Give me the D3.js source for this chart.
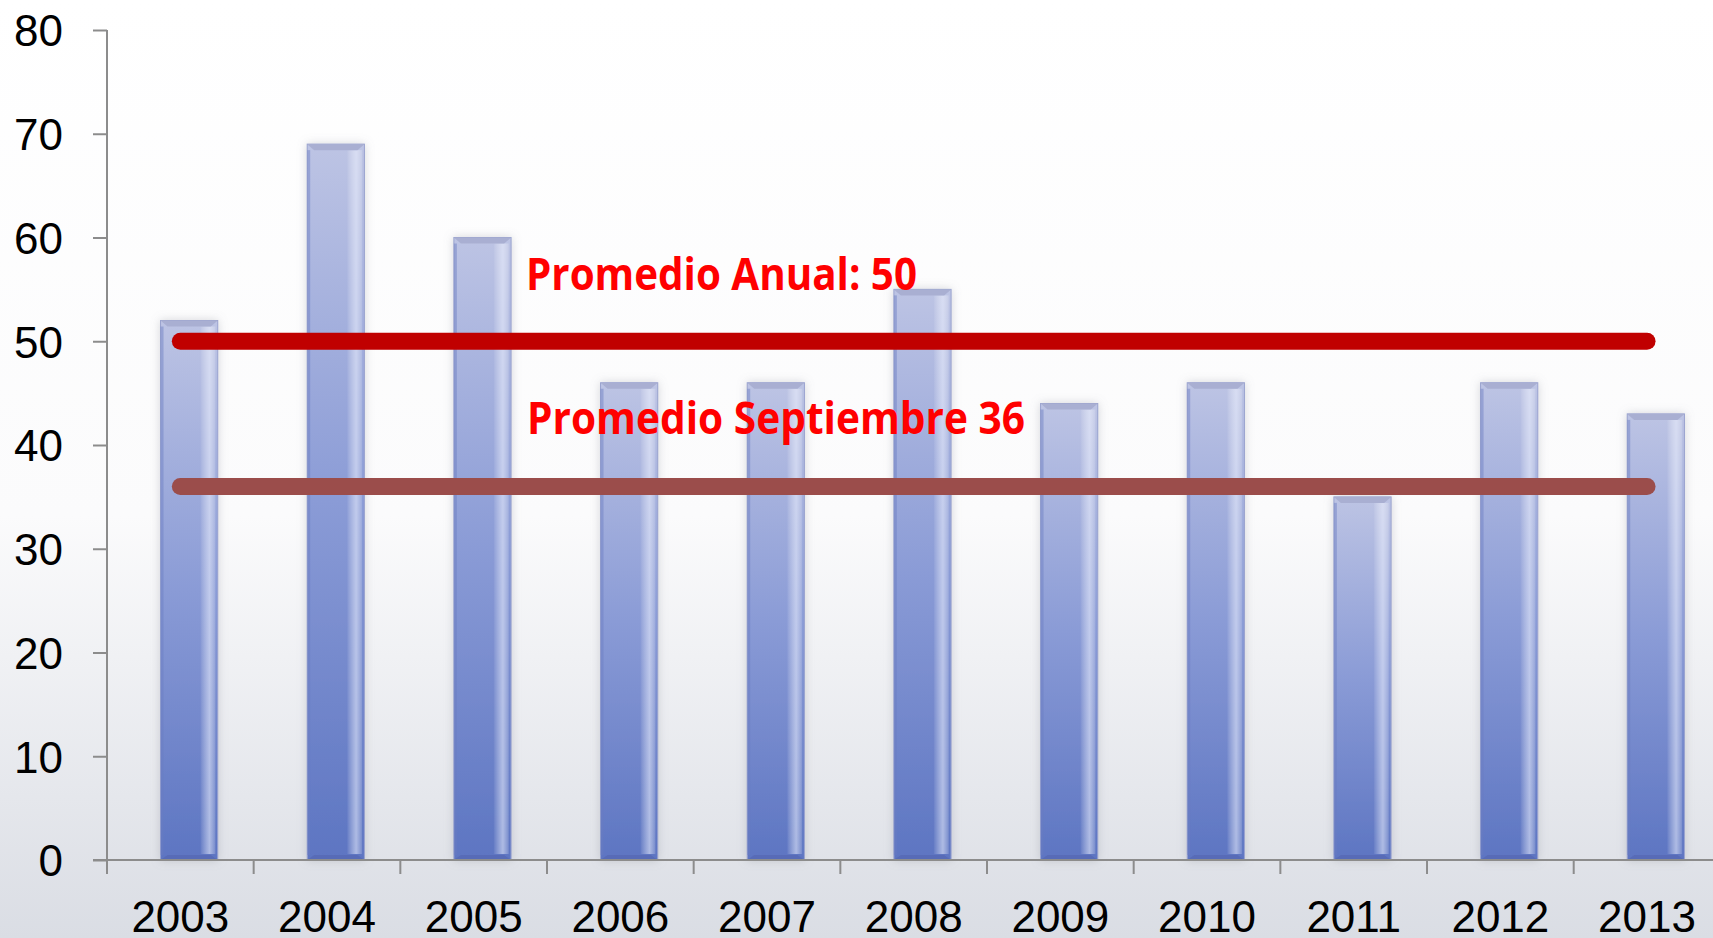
<!DOCTYPE html>
<html>
<head>
<meta charset="utf-8">
<script src="https://cdn.jsdelivr.net/npm/d3@7"></script>
<style>
  html, body { margin: 0; padding: 0; overflow: hidden; }
  svg { display: block; }
</style>
</head>
<body>
<script>
// chart data
const years = ["2003", "2004", "2005", "2006", "2007", "2008", "2009", "2010", "2011", "2012", "2013"];
const values = [52, 69, 60, 46, 46, 55, 44, 46, 35, 46, 43];
const yTicks = [0, 10, 20, 30, 40, 50, 60, 70, 80];
const avgAnual = 50;
const avgSeptiembre = 36;
const avgLabels = ["Promedio Anual: 50", "Promedio Septiembre 36"];

const width = 1713, height = 938;
const plotLeft = 107, plotTop = 30, plotBottom = 860;
const band = 146.67;

const svg = d3.select("body").append("svg")
    .attr("width", width)
    .attr("height", height);

const defs = svg.append("defs");

// background
const bg = defs.append("linearGradient").attr("id", "bg")
    .attr("x1", 0).attr("y1", 0).attr("x2", 0).attr("y2", 1);
bg.append("stop").attr("offset", "0").attr("stop-color", "#ffffff");
bg.append("stop").attr("offset", "0.55").attr("stop-color", "#fbfbfc");
bg.append("stop").attr("offset", "1").attr("stop-color", "#dadde4");

// bar body
const body = defs.append("linearGradient").attr("id", "barBody")
    .attr("x1", 0).attr("y1", 0).attr("x2", 0).attr("y2", 1);
body.append("stop").attr("offset", "0").attr("stop-color", "#bdc4e4");
body.append("stop").attr("offset", "0.5").attr("stop-color", "#8a9bd6");
body.append("stop").attr("offset", "1").attr("stop-color", "#5d75c2");

// right highlight of the bar
const hi = defs.append("linearGradient").attr("id", "barHi")
    .attr("x1", 0).attr("y1", 0).attr("x2", 1).attr("y2", 0);
hi.append("stop").attr("offset", "0").attr("stop-color", "#ffffff").attr("stop-opacity", 0.05);
hi.append("stop").attr("offset", "0.6").attr("stop-color", "#eef2ff").attr("stop-opacity", 0.55);
hi.append("stop").attr("offset", "1").attr("stop-color", "#ffffff").attr("stop-opacity", 0.15);

const shadow = defs.append("filter").attr("id", "shadow")
    .attr("x", "-30%").attr("y", "-10%").attr("width", "160%").attr("height", "120%");
shadow.append("feDropShadow")
    .attr("dx", 0).attr("dy", 0).attr("stdDeviation", 5)
    .attr("flood-color", "#8c8f99").attr("flood-opacity", 0.35);

svg.append("rect")
    .attr("width", width).attr("height", height)
    .attr("fill", "url(#bg)");

// scales
const x = d3.scaleBand()
    .domain(years)
    .range([plotLeft, plotLeft + band * years.length])
    .padding(0);

const y = d3.scaleLinear()
    .domain([0, 80])
    .range([plotBottom, plotTop]);

const barW = x.bandwidth() * 0.39;
const barOff = x.bandwidth() * 0.365;

// bars
const bars = svg.selectAll("g.bar")
    .data(years.map((d, i) => ({ year: d, value: values[i] })))
    .enter()
    .append("g")
    .attr("class", "bar")
    .attr("transform", d => `translate(${x(d.year) + barOff}, 0)`);

bars.append("rect")
    .attr("y", d => y(d.value))
    .attr("width", barW)
    .attr("height", d => y(0) - y(d.value))
    .attr("fill", "url(#barBody)")
    .attr("stroke", "#9aa3cf")
    .attr("stroke-width", 1)
    .attr("filter", "url(#shadow)");

bars.append("rect")
    .attr("x", barW * 0.7)
    .attr("y", d => y(d.value) + 6)
    .attr("width", barW * 0.26)
    .attr("height", d => y(0) - y(d.value) - 12)
    .attr("fill", "url(#barHi)");

// top bevel
bars.append("path")
    .attr("d", d => {
        const t = y(d.value);
        return `M0,${t} L${barW},${t} L${barW - 7},${t + 6} L7,${t + 6} Z`;
    })
    .attr("fill", "#a9afd2");

// bottom bevel
bars.append("path")
    .attr("d", d => {
        const b = y(0);
        return `M0,${b} L${barW},${b} L${barW - 7},${b - 5} L7,${b - 5} Z`;
    })
    .attr("fill", "#5669b4")
    .attr("opacity", 0.8);

// left edge
bars.append("rect")
    .attr("y", d => y(d.value) + 6)
    .attr("width", 3)
    .attr("height", d => y(0) - y(d.value) - 11)
    .attr("fill", "#6a7cc0")
    .attr("opacity", 0.45);

// y axis
const yAxis = svg.append("g")
    .attr("transform", `translate(${plotLeft},0)`)
    .call(d3.axisLeft(y).tickValues(yTicks).tickSize(14).tickPadding(30));
yAxis.select(".domain").attr("stroke", "#8c8c8c").attr("stroke-width", 2)
    .attr("d", `M0,${plotTop}V${plotBottom}`);
yAxis.selectAll(".tick line").attr("stroke", "#8c8c8c").attr("stroke-width", 2);
yAxis.selectAll("text")
    .attr("font-family", "'Liberation Sans', Arial, sans-serif")
    .attr("font-size", 44)
    .attr("fill", "#000")
    .attr("dy", "0.36em");

// x axis
const xAxis = svg.append("g")
    .attr("transform", `translate(0,${plotBottom})`)
    .call(d3.axisBottom(x).tickSize(0).tickPadding(41));
xAxis.select(".domain").remove();
xAxis.selectAll("text")
    .attr("font-family", "'Liberation Sans', Arial, sans-serif")
    .attr("font-size", 44)
    .attr("fill", "#000");

xAxis.append("line")
    .attr("x1", plotLeft - 14).attr("x2", width)
    .attr("stroke", "#8c8c8c").attr("stroke-width", 2);

xAxis.selectAll("line.bound")
    .data(years)
    .enter()
    .append("line")
    .attr("class", "bound")
    .attr("x1", d => x(d)).attr("x2", d => x(d))
    .attr("y1", 0).attr("y2", 14)
    .attr("stroke", "#8c8c8c").attr("stroke-width", 2);

// average lines
const x0 = x(years[0]) + x.bandwidth() / 2;
const x1 = x(years[years.length - 1]) + x.bandwidth() / 2;

svg.append("line")
    .attr("x1", x0).attr("x2", x1)
    .attr("y1", y(avgAnual)).attr("y2", y(avgAnual))
    .attr("stroke", "#c00000")
    .attr("stroke-width", 17)
    .attr("stroke-linecap", "round");

svg.append("line")
    .attr("x1", x0).attr("x2", x1)
    .attr("y1", y(avgSeptiembre)).attr("y2", y(avgSeptiembre))
    .attr("stroke", "#9b4d4b")
    .attr("stroke-width", 17)
    .attr("stroke-linecap", "round");

// labels
svg.append("text")
    .attr("x", 526).attr("y", 290)
    .attr("font-family", "'Open Sans', 'Noto Sans', sans-serif")
    .attr("font-weight", "bold")
    .attr("font-size", 45)
    .attr("fill", "#ff0000")
    .attr("textLength", 391)
    .attr("lengthAdjust", "spacingAndGlyphs")
    .text(avgLabels[0]);

svg.append("text")
    .attr("x", 527).attr("y", 434)
    .attr("font-family", "'Open Sans', 'Noto Sans', sans-serif")
    .attr("font-weight", "bold")
    .attr("font-size", 45)
    .attr("fill", "#ff0000")
    .attr("textLength", 498)
    .attr("lengthAdjust", "spacingAndGlyphs")
    .text(avgLabels[1]);
</script>
</body>
</html>
